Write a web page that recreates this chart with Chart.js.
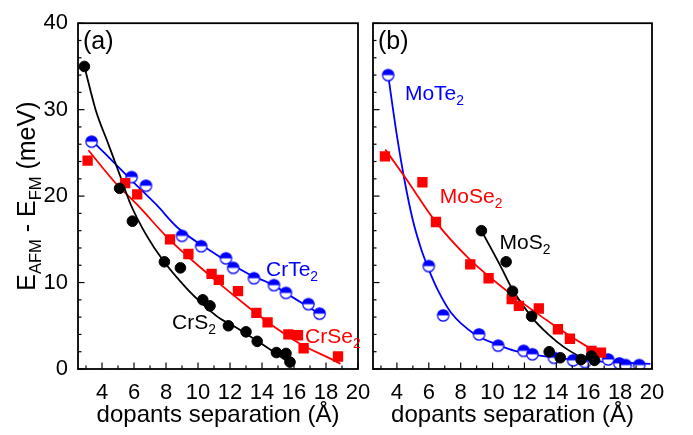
<!DOCTYPE html>
<html>
<head>
<meta charset="utf-8">
<script src="https://cdn.jsdelivr.net/npm/chart.js@4"></script>
<style>
  html, body { margin: 0; padding: 0; background: #fff; }
  #wrap { position: relative; width: 693px; height: 435px; }
  #wrap canvas { position: absolute; left: 0; top: 0; }
</style>
</head>
<body>
<div id="wrap">
  <canvas id="chartA" width="693" height="435"></canvas>
  <canvas id="chartB" width="693" height="435"></canvas>
</div>
<script>
// --- Оси ---
const xMin = 2.5, xMax = 20;
const yMin = 0, yMax = 40;
const xTickLabels = [4, 6, 8, 10, 12, 14, 16, 18, 20];
const xMinorTicks = [3, 5, 7, 9, 11, 13, 15, 17, 19];
const yTickLabels = [0, 10, 20, 30, 40];
const yMinorTicks = [2, 4, 6, 8, 12, 14, 16, 18, 22, 24, 26, 28, 32, 34, 36, 38];

// --- (a) Cr: точки ---
const crS2X = [2.9, 5.1, 5.9, 7.9, 8.9, 10.3, 10.75, 11.9, 13.0, 13.7, 14.9, 15.5, 15.75];
const crS2Y = [35.0, 20.9, 17.1, 12.4, 11.7, 8.0, 7.3, 5.0, 4.3, 3.2, 1.9, 1.8, 0.8];
const crSe2X = [3.1, 5.45, 6.2, 8.25, 9.4, 10.85, 11.3, 12.5, 13.65, 14.35, 15.65, 16.25, 16.6, 18.75];
const crSe2Y = [24.1, 21.5, 20.2, 15.0, 13.3, 11.0, 10.3, 9.0, 6.5, 5.4, 4.0, 3.9, 2.4, 1.45];
const crTe2X = [3.35, 5.85, 6.75, 9.0, 10.2, 11.75, 12.2, 13.5, 14.75, 15.5, 16.9, 17.6];
const crTe2Y = [26.3, 22.2, 21.2, 15.4, 14.2, 12.8, 11.7, 10.5, 9.7, 8.8, 7.5, 6.4];

// --- (a) Cr: аппроксимации ---
const fitCrS2X = [2.9, 3.6, 4.4, 5.2, 5.8, 6.8, 7.8, 9.3, 10.3, 11.4, 12.2, 13.9, 15.1, 15.85];
const fitCrS2Y = [35.0, 30.0, 26.0, 22.0, 19.0, 15.4, 12.6, 9.3, 7.5, 5.8, 5.0, 3.0, 1.5, 0.5];
const fitCrSe2X = [3.15, 4.9, 6.2, 8.25, 10.75, 13.25, 14.3, 16.4, 18.5, 18.9];
const fitCrSe2Y = [25.3, 21.4, 19.0, 14.9, 10.8, 7.0, 5.5, 2.9, 1.0, 0.6];
const fitCrTe2X = [3.4, 5.75, 7.4, 8.7, 10.75, 13.25, 14.5, 16.0, 17.4, 17.8];
const fitCrTe2Y = [26.4, 22.0, 19.0, 16.4, 13.7, 10.9, 9.9, 8.2, 6.6, 6.2];

// --- (b) Mo: точки ---
const moS2X = [9.3, 10.85, 11.25, 12.45, 13.55, 14.25, 15.55, 16.2, 16.4];
const moS2Y = [16.0, 12.4, 9.0, 6.1, 2.0, 1.3, 1.1, 1.5, 1.0];
const moSe2X = [3.25, 5.6, 6.45, 8.6, 9.75, 11.2, 11.65, 12.9, 14.1, 14.85, 16.2, 16.8];
const moSe2Y = [24.6, 21.6, 17.0, 12.1, 10.5, 8.1, 7.3, 7.0, 4.6, 3.5, 2.1, 1.9];
const moTe2X = [3.45, 6.0, 6.9, 9.15, 10.35, 11.95, 12.5, 13.85, 15.05, 15.8, 17.25, 17.95, 18.35, 19.2];
const moTe2Y = [34.0, 11.9, 6.2, 4.0, 2.7, 2.1, 1.7, 1.3, 1.0, 0.8, 1.1, 0.65, 0.45, 0.45];

// --- (b) Mo: аппроксимации ---
const fitMoS2X = [9.3, 10.5, 11.25, 12.45, 13.5, 14.5, 15.5, 16.4];
const fitMoS2Y = [16.0, 11.9, 9.2, 6.0, 4.0, 2.5, 1.4, 0.6];
const fitMoSe2X = [3.27, 4.5, 6.4, 8.5, 11.2, 14.1, 16.2, 16.7];
const fitMoSe2Y = [25.4, 22.2, 17.1, 12.8, 8.6, 4.75, 2.3, 1.8];
const fitMoTe2X = [3.45, 4.0, 4.5, 5.0, 5.5, 6.0, 6.6, 7.4, 8.9, 10.35, 11.4, 14.5, 17.0, 19.9];
const fitMoTe2Y = [34.0, 27.0, 21.6, 17.2, 14.0, 11.5, 9.0, 6.5, 4.0, 2.8, 2.1, 1.2, 0.85, 0.6];

const FONT = "'Liberation Sans', Arial, sans-serif";
const BLUE = '#0000ff', RED = '#ff0000', BLACK = '#000000';

const xTicks = xTickLabels.concat(xMinorTicks).sort((a, b) => a - b);
const yTicks = yTickLabels.concat(yMinorTicks).sort((a, b) => a - b);

function pts(xs, ys) {
    return xs.map((x, i) => ({ x: x, y: ys[i] }));
}

// полузакрашенный кружок
function halfCircle(color) {
    const c = document.createElement('canvas');
    c.width = 15; c.height = 15;
    const g = c.getContext('2d');
    g.beginPath(); g.arc(7.5, 7.5, 5.7, 0, Math.PI * 2); g.fillStyle = '#fff'; g.fill();
    g.beginPath(); g.arc(7.5, 7.5, 5.7, Math.PI, 0); g.closePath(); g.fillStyle = color; g.fill();
    g.beginPath(); g.arc(7.5, 7.5, 5.7, 0, Math.PI * 2); g.lineWidth = 1.2; g.strokeStyle = color; g.stroke();
    return c;
}
const halfBlue = halfCircle(BLUE);

function scatterSet(data, color, style) {
    return {
        data: data, showLine: false, order: 0,
        pointStyle: style, pointRadius: style === 'rect' ? 7.3 : 5.3,
        pointBorderWidth: style === 'rect' ? 0 : 1,
        pointBackgroundColor: color, pointBorderColor: color
    };
}
function fitSet(data, color) {
    return {
        data: data, showLine: true, order: 1, pointRadius: 0,
        borderColor: color, borderWidth: 1.8, cubicInterpolationMode: 'monotone'
    };
}

// текст с подстрочными индексами
function drawRich(ctx, parts, x, y, size) {
    let cx = x;
    parts.forEach(p => {
        const s = p.sub ? size * 0.66 : size;
        ctx.font = s + 'px ' + FONT;
        ctx.fillText(p.t, cx, p.sub ? y + size * 0.24 : y);
        cx += ctx.measureText(p.t).width;
    });
}
function richWidth(ctx, parts, size) {
    let w = 0;
    parts.forEach(p => {
        ctx.font = (p.sub ? size * 0.66 : size) + 'px ' + FONT;
        w += ctx.measureText(p.t).width;
    });
    return w;
}

// --- Рамка и внутренние засечки ---
const framePlugin = {
    id: 'frame',
    afterDraw(chart) {
        const ctx = chart.ctx, a = chart.chartArea;
        const sx = chart.scales.x, sy = chart.scales.y;
        ctx.save();
        ctx.strokeStyle = BLACK;
        ctx.lineWidth = 1.2;
        sx.ticks.forEach(t => {
            const p = sx.getPixelForValue(t.value);
            const len = xTickLabels.includes(t.value) ? 6.5 : 3.5;
            ctx.beginPath(); ctx.moveTo(p, a.bottom); ctx.lineTo(p, a.bottom - len); ctx.stroke();
        });
        sy.ticks.forEach(t => {
            const p = sy.getPixelForValue(t.value);
            const len = yTickLabels.includes(t.value) ? 6.5 : 3.5;
            ctx.beginPath(); ctx.moveTo(a.left, p); ctx.lineTo(a.left + len, p); ctx.stroke();
        });
        ctx.lineWidth = 1.8;
        ctx.strokeRect(a.left, a.top, a.right - a.left, a.bottom - a.top);
        ctx.restore();
    }
};

// --- Подписи серий и оси Y ---
const textPlugin = {
    id: 'panelText',
    afterDraw(chart, args, opts) {
        const ctx = chart.ctx, sx = chart.scales.x, sy = chart.scales.y;
        ctx.save();
        ctx.textBaseline = 'alphabetic';
        ctx.textAlign = 'left';
        (opts.items || []).forEach(it => {
            ctx.fillStyle = it.color;
            drawRich(ctx, it.parts, sx.getPixelForValue(it.x), sy.getPixelForValue(it.y), it.size);
        });
        if (opts.yTitle) {
            const parts = [{ t: 'E' }, { t: 'AFM', sub: true }, { t: ' - E' }, { t: 'FM', sub: true }, { t: ' (meV)' }];
            const size = 25;
            const w = richWidth(ctx, parts, size);
            const midY = (chart.chartArea.top + chart.chartArea.bottom) / 2;
            ctx.translate(35, midY);
            ctx.rotate(-Math.PI / 2);
            ctx.fillStyle = BLACK;
            drawRich(ctx, parts, -w / 2, 0, size);
        }
        ctx.restore();
    }
};

function makePanel(id, datasets, items, withLabels, pad, yWidth) {
    return new Chart(document.getElementById(id), {
        type: 'scatter',
        data: { datasets: datasets },
        options: {
            responsive: false,
            animation: false,
            layout: { padding: pad },
            plugins: {
                legend: { display: false },
                tooltip: { enabled: false },
                panelText: { items: items, yTitle: withLabels }
            },
            scales: {
                x: {
                    type: 'linear', min: xMin, max: xMax,
                    afterBuildTicks: s => { s.ticks = xTicks.map(v => ({ value: v })); },
                    afterFit: s => { s.height = 66; },
                    grid: { display: false, drawTicks: false },
                    border: { display: false },
                    ticks: {
                        autoSkip: false, maxRotation: 0, padding: 11, color: BLACK,
                        font: { family: FONT, size: 22 },
                        callback: v => xTickLabels.includes(v) ? String(v) : ''
                    },
                    title: {
                        display: true, text: 'dopants separation (Å)', color: BLACK,
                        font: { family: FONT, size: 24 }, padding: { top: 0, bottom: 5 }
                    }
                },
                y: {
                    type: 'linear', min: yMin, max: yMax,
                    afterBuildTicks: s => { s.ticks = yTicks.map(v => ({ value: v })); },
                    afterFit: s => { s.width = yWidth; },
                    grid: { display: false, drawTicks: false },
                    border: { display: false },
                    ticks: {
                        autoSkip: false, padding: 10, color: BLACK,
                        font: { family: FONT, size: 22 },
                        callback: v => (withLabels && yTickLabels.includes(v)) ? String(v) : ''
                    }
                }
            }
        },
        plugins: [framePlugin, textPlugin]
    });
}

// --- Панель (a) ---
makePanel('chartA', [
    scatterSet(pts(crS2X, crS2Y), BLACK, 'circle'),
    scatterSet(pts(crSe2X, crSe2Y), RED, 'rect'),
    scatterSet(pts(crTe2X, crTe2Y), BLUE, halfBlue),
    fitSet(pts(fitCrS2X, fitCrS2Y), BLACK),
    fitSet(pts(fitCrSe2X, fitCrSe2Y), RED),
    fitSet(pts(fitCrTe2X, fitCrTe2Y), BLUE)
], [
    { parts: [{ t: '(a)' }], x: 2.81, y: 37.0, color: BLACK, size: 25 },
    { parts: [{ t: 'CrTe' }, { t: '2', sub: true }], x: 14.25, y: 10.8, color: BLUE, size: 21 },
    { parts: [{ t: 'CrS' }, { t: '2', sub: true }], x: 8.375, y: 4.6, color: BLACK, size: 21 },
    { parts: [{ t: 'CrSe' }, { t: '2', sub: true }], x: 16.69, y: 3.0, color: RED, size: 21 }
], true, { left: 0, right: 335, top: 13, bottom: 0 }, 78);

// --- Панель (b) ---
makePanel('chartB', [
    scatterSet(pts(moS2X, moS2Y), BLACK, 'circle'),
    scatterSet(pts(moSe2X, moSe2Y), RED, 'rect'),
    scatterSet(pts(moTe2X, moTe2Y), BLUE, halfBlue),
    fitSet(pts(fitMoS2X, fitMoS2Y), BLACK),
    fitSet(pts(fitMoSe2X, fitMoSe2Y), RED),
    fitSet(pts(fitMoTe2X, fitMoTe2Y), BLUE)
], [
    { parts: [{ t: '(b)' }], x: 2.81, y: 37.0, color: BLACK, size: 25 },
    { parts: [{ t: 'MoTe' }, { t: '2', sub: true }], x: 4.5, y: 31.1, color: BLUE, size: 21 },
    { parts: [{ t: 'MoSe' }, { t: '2', sub: true }], x: 6.69, y: 19.2, color: RED, size: 21 },
    { parts: [{ t: 'MoS' }, { t: '2', sub: true }], x: 10.44, y: 13.9, color: BLACK, size: 21 }
], false, { left: 363, right: 41, top: 13, bottom: 0 }, 10);
</script>
</body>
</html>
